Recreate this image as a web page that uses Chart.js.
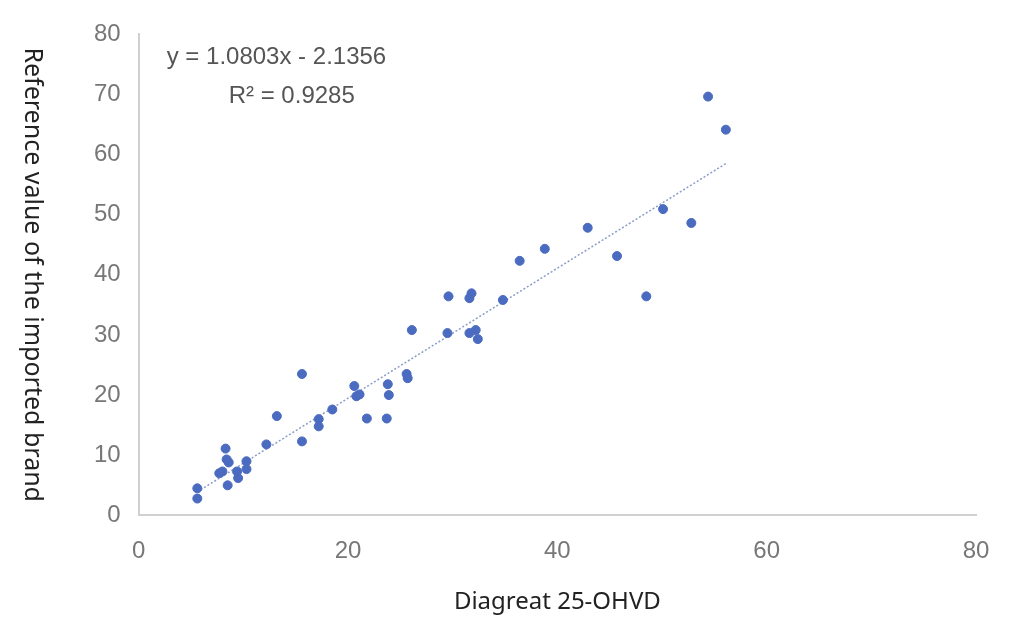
<!DOCTYPE html>
<html>
<head>
<meta charset="utf-8">
<script src="https://cdn.jsdelivr.net/npm/chart.js@4"></script>
<style>
  body { margin: 0; background: #fff; }
  #wrap { width: 1021px; height: 639px; }
</style>
</head>
<body>
<div id="wrap"><canvas id="myChart"></canvas></div>
<script>
const x_values = [5.6, 5.6, 8.3, 8.4, 8.6, 7.7, 8.0, 8.5, 9.4, 9.5, 10.3, 10.3, 12.2, 13.2, 15.6, 15.6,
    17.2, 17.2, 18.5, 20.6, 20.8, 21.1, 21.8, 23.7, 23.8, 23.9, 25.6, 25.7, 26.1, 29.5, 29.6, 31.6,
    31.8, 31.6, 32.2, 32.4, 34.8, 36.4, 38.8, 42.9, 45.7, 48.5, 50.1, 52.8, 54.4, 56.1];
const y_values = [4.5, 2.8, 11.1, 9.3, 8.8, 7.0, 7.3, 5.0, 7.3, 6.2, 9.0, 7.7, 11.8, 16.5, 12.3, 23.5,
    16.0, 14.8, 17.6, 21.5, 19.8, 20.1, 16.1, 16.1, 21.8, 20.0, 23.5, 22.8, 30.8, 30.3, 36.4, 36.1,
    36.9, 30.3, 30.8, 29.3, 35.8, 42.3, 44.3, 47.8, 43.1, 36.4, 50.9, 48.6, 69.6, 64.1];
const slope = 1.0803;
const intercept = -2.1356;
const trend_x = [5.6, 56.1];

const point_color = '#4a6bbf';
const tick_color = '#777777';

const points = x_values.map(function (x, i) { return { x: x, y: y_values[i] } });
const trend = trend_x.map(function (x) { return { x: x, y: slope * x + intercept } });

const labelsPlugin = {
    id: 'labels',
    afterDraw: function (chart) {
        const ctx = chart.ctx;
        const area = chart.chartArea;
        ctx.save();
        ctx.fillStyle = '#555';
        ctx.font = '24px "Liberation Sans", Arial, sans-serif';
        ctx.textAlign = 'left';
        ctx.textBaseline = 'middle';
        ctx.fillText('y = 1.0803x - 2.1356', area.left + 28, 57);
        ctx.fillText('R² = 0.9285', area.left + 90, 96);
        // y title reads top to bottom
        ctx.fillStyle = '#222';
        ctx.font = '25px "Noto Sans", sans-serif';
        ctx.translate(32, (area.top + area.bottom) / 2);
        ctx.rotate(Math.PI / 2);
        ctx.textAlign = 'center';
        ctx.fillText('Reference value of the imported brand', 0, 0);
        ctx.restore();
    }
};

new Chart('myChart', {
    type: 'scatter',
    data: {
        datasets: [{
            label: 'Data',
            data: points,
            backgroundColor: point_color,
            borderColor: point_color,
            pointRadius: 4.5,
            pointHoverRadius: 4.5
        },
        {
            type: 'line',
            label: 'Trend',
            data: trend,
            borderColor: '#8a9cc8',
            borderWidth: 1.5,
            borderDash: [2, 2],
            pointRadius: 0,
            fill: false
        }]
    },
    options: {
        responsive: true,
        maintainAspectRatio: false,
        animation: false,
        layout: { padding: { left: 76, right: 45, top: 34, bottom: 18 } },
        scales: {
            x: {
                type: 'linear',
                min: 0,
                max: 80,
                grid: { display: false, drawTicks: false },
                border: { color: '#d0d0d0', width: 2 },
                ticks: { stepSize: 20, color: tick_color, padding: 22, font: { size: 24, family: '"Liberation Sans", Arial' } },
                title: { display: true, text: 'Diagreat 25-OHVD', color: '#222', font: { size: 24, family: '"Noto Sans"' }, padding: { top: 0 } }
            },
            y: {
                min: 0,
                max: 80,
                grid: { display: false, drawTicks: false },
                border: { color: '#d0d0d0', width: 2 },
                ticks: { stepSize: 10, color: tick_color, padding: 18, font: { size: 24, family: '"Liberation Sans", Arial' } }
            }
        },
        plugins: {
            legend: { display: false },
            tooltip: { enabled: false }
        }
    },
    plugins: [labelsPlugin]
});
</script>
</body>
</html>
